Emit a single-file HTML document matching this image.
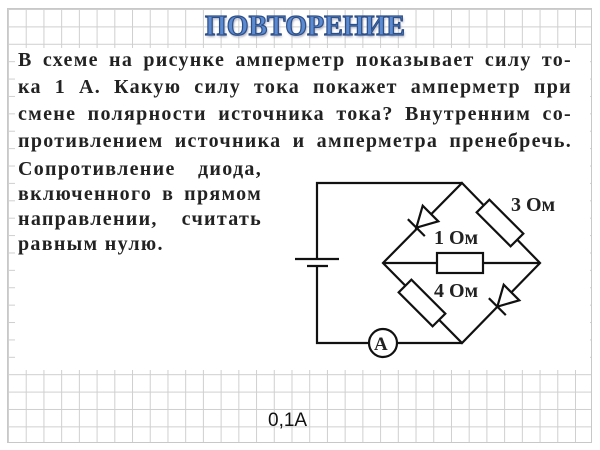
<!DOCTYPE html>
<html><head><meta charset="utf-8"><style>
html,body{margin:0;padding:0;}
body{width:600px;height:450px;position:relative;overflow:hidden;background:#fff;}
.grid{position:absolute;left:7px;top:8px;width:585px;height:435px;border:1px solid #c8c8c8;box-sizing:border-box;
background-image:linear-gradient(to right,#cfcfcf 1px,transparent 1px),linear-gradient(to bottom,#cfcfcf 1px,transparent 1px);
background-size:17.727px 17.4px;}
.wb{position:absolute;left:15px;top:48px;width:575px;height:322px;background:#fff;}
.t{position:absolute;font-family:"Liberation Serif","DejaVu Serif",serif;font-size:20px;line-height:20px;color:#222;font-weight:bold;white-space:nowrap;text-align:justify;text-align-last:justify;letter-spacing:1.3px;}
.title{position:absolute;left:205px;top:11px;width:200px;text-align:center;font-family:"Liberation Serif",serif;font-weight:bold;font-size:28px;color:#5b8ad0;-webkit-text-stroke:1.2px #2d4f88;letter-spacing:0px;text-shadow:1px 2px 2px #aab;}
.ans{position:absolute;left:268px;top:410px;font-family:"Liberation Sans",sans-serif;font-size:19px;color:#111;}
</style></head><body>
<div class="grid"></div>
<div class="wb"></div>
<div class="title">ПОВТОРЕНИЕ</div>
<div class="t" style="left:18px;top:50px;width:554px">В схеме на рисунке амперметр показывает силу то-</div>
<div class="t" style="left:18px;top:77px;width:554px">ка 1 А. Какую силу тока покажет амперметр при</div>
<div class="t" style="left:18px;top:104px;width:554px">смене полярности источника тока? Внутренним со-</div>
<div class="t" style="left:18px;top:131px;width:554px">противлением источника и амперметра пренебречь.</div>
<div class="t" style="left:18px;top:159px;width:244px">Сопротивление диода,</div>
<div class="t" style="left:18px;top:184px;width:244px">включенного в прямом</div>
<div class="t" style="left:18px;top:209px;width:244px">направлении, считать</div>
<div class="t" style="left:18px;top:234px;width:150px;text-align-last:left">равным нулю.</div>
<svg style="position:absolute;left:0;top:0" width="600" height="450" viewBox="0 0 600 450">
<g stroke="#111" stroke-width="2.2" fill="none">
<polyline points="317,259 317,183 462,183"/>
<polyline points="317,266 317,343 369,343"/>
<line x1="397" y1="343" x2="462" y2="343"/>
<line x1="295" y1="259" x2="339" y2="259"/>
<line x1="307" y1="266" x2="328" y2="266"/>
<circle cx="383" cy="343" r="14" fill="#fff"/>
<polygon points="462,183 540,263 462,343 383,263"/>
<line x1="383" y1="263" x2="540" y2="263"/>
<rect x="437" y="253" width="46" height="20" fill="#fff"/>
<g transform="translate(500,223) rotate(45)"><rect x="-24" y="-9" width="48" height="18" fill="#fff"/></g>
<g transform="translate(422,303) rotate(45)"><rect x="-24" y="-9" width="48" height="18" fill="#fff"/></g>
<g transform="translate(422,222) rotate(135)"><polygon points="-12,-11 -12,11 8,0" fill="#fff"/><line x1="8" y1="-12" x2="8" y2="12"/></g>
<g transform="translate(503,301) rotate(135)"><polygon points="-12,-11 -12,11 8,0" fill="#fff"/><line x1="8" y1="-12" x2="8" y2="12"/></g>
</g>
<g font-family="Liberation Serif,serif" font-size="20" font-weight="bold" fill="#222">
<text x="374" y="350" font-size="19">A</text>
<text x="511" y="211">3 Ом</text>
<text x="434" y="244">1 Ом</text>
<text x="434" y="297">4 Ом</text>
</g>
</svg>
<div class="ans">0,1A</div>
</body></html>
